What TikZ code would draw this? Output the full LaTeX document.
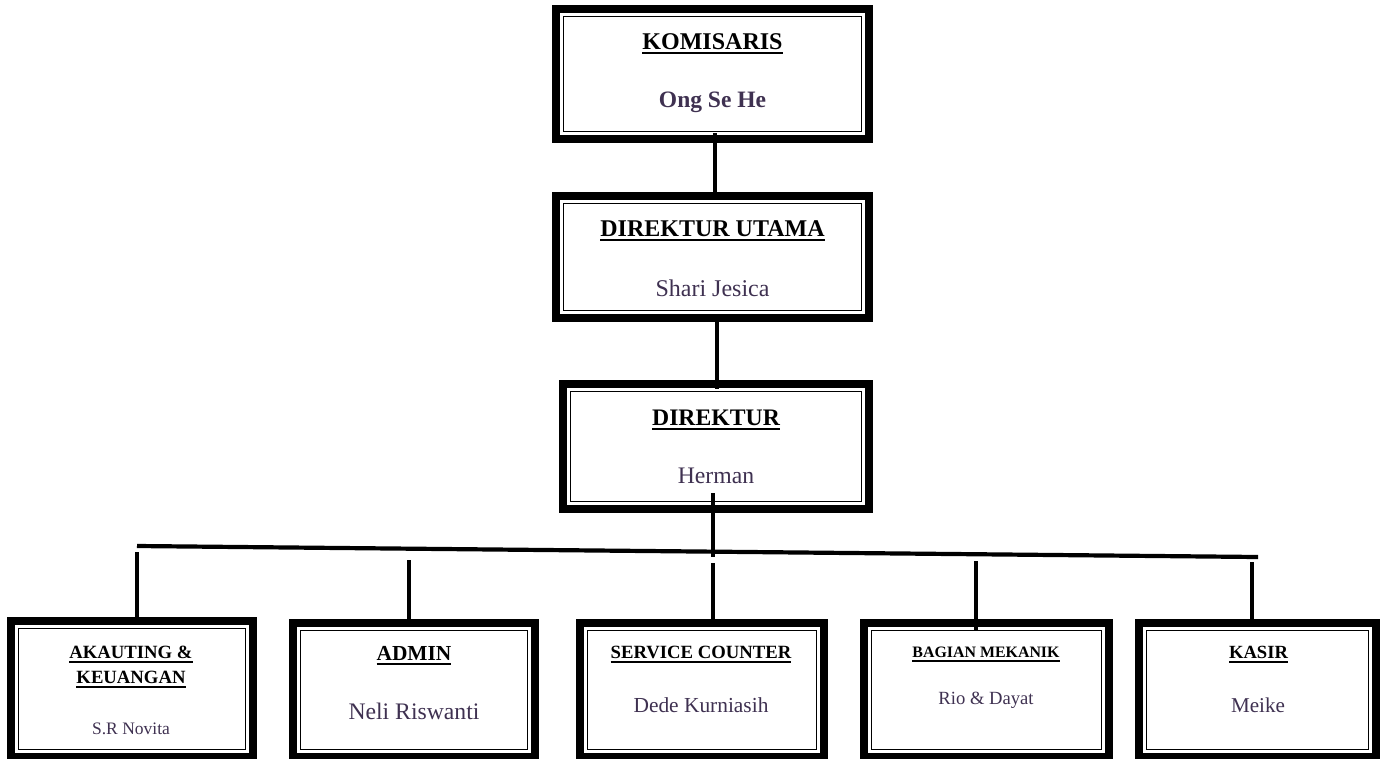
\documentclass[tikz,border=0pt]{standalone}
\usepackage{fontspec}
\setmainfont{Liberation Serif}
\usetikzlibrary{calc}
\newsavebox{\ulxbox}
\newcommand{\ulx}[1]{\sbox{\ulxbox}{#1}\rlap{\rule[-4.8pt]{\wd\ulxbox}{2.2pt}}\usebox{\ulxbox}}
\definecolor{namecol}{HTML}{3F3151}
\newcommand{\orgbox}[5]{%
  \node[obox, minimum width={#4-#2-8}, minimum height={#5-#3-8}] (#1) at ({(#2+#4)/2},{(#3+#5)/2}) {};
  \draw[thinrule] ($(#1.north west)+(7.6,7.6)$) rectangle ($(#1.south east)+(-7.6,-7.6)$);
}
\newcommand{\fs}[1]{\fontsize{#1}{#1}\selectfont}
\begin{document}
\begin{tikzpicture}[x=1pt,y=-1pt,
  obox/.style={draw, line width=8pt, rectangle, inner sep=0pt, outer sep=0pt, fill=white},
  thinrule/.style={draw, line width=1.7pt},
  conn/.style={draw, line width=4.2pt},
  ttl/.style={inner sep=0pt, anchor=base, font=\bfseries},
  nm/.style={inner sep=0pt, anchor=base, text=namecol}]
\useasboundingbox[fill=white] (0,0) rectangle (1380,758);

% connector end points
\coordinate (c1) at (715,133);
\coordinate (c2) at (717,389);
\coordinate (c3) at (713,493);
\coordinate (c3e) at (713,557);
\coordinate (hl) at (137,546);
\coordinate (hr) at (1258,557);
\coordinate (d1) at (137,552);
\coordinate (d2) at (409,560);
\coordinate (d3) at (713,563);
\coordinate (d4) at (976,561);
\coordinate (d4e) at (976,630);
\coordinate (d5) at (1252,562);

% boxes
\orgbox{kom}{552}{5}{873}{143}
\orgbox{du}{552}{192}{873}{322}
\orgbox{dir}{559}{380}{873}{513}
\orgbox{akt}{7}{617}{257}{761}
\orgbox{adm}{289}{619}{539}{761}
\orgbox{svc}{576}{619}{828}{761}
\orgbox{mek}{860}{619}{1113}{761}
\orgbox{ksr}{1135}{619}{1380}{761}

\draw[conn] (c1) -- (c1 |- du.north);
\draw[conn] (c2 |- du.south) -- (c2);
\draw[conn] (c3) -- (c3e);
\draw[conn] (hl) -- (hr);
\draw[conn] (d1) -- (d1 |- akt.north);
\draw[conn] (d2) -- (d2 |- adm.north);
\draw[conn] (d3) -- (d3 |- svc.north);
\draw[conn] (d4) -- (d4e);
\draw[conn] (d5) -- (d5 |- ksr.north);

% texts
\node[ttl, font=\bfseries\fs{24}] (kom-t) at (712.5,49) {\ulx{KOMISARIS}};
\node[nm, font=\bfseries\fs{23.5}] (kom-n) at (712.5,107) {Ong Se He};
\node[ttl, font=\bfseries\fs{24}] (du-t) at (712.5,236) {\ulx{DIREKTUR UTAMA}};
\node[nm, font=\fs{24}] (du-n) at (712.5,296) {Shari Jesica};
\node[ttl, font=\bfseries\fs{23.7}] (dir-t) at (716,425) {\ulx{DIREKTUR}};
\node[nm, font=\fs{23.7}] (dir-n) at (716,483) {Herman};

\node[ttl, font=\bfseries\fs{18.7}] (akt-t1) at (131,658) {\ulx{AKAUTING \&}};
\node[ttl, font=\bfseries\fs{18.7}] (akt-t2) at (131,683) {\ulx{KEUANGAN}};
\node[nm, font=\fs{17.5}] (akt-n) at (131,734) {S.R Novita};
\node[ttl, font=\bfseries\fs{21.4}] (adm-t) at (414,660) {\ulx{ADMIN}};
\node[nm, font=\fs{23.7}] (adm-n) at (414,719) {Neli Riswanti};
\node[ttl, font=\bfseries\fs{18.7}] (svc-t) at (701,658) {\ulx{SERVICE COUNTER}};
\node[nm, font=\fs{21.4}] (svc-n) at (701,712) {Dede Kurniasih};
\node[ttl, font=\bfseries\fs{15.9}] (mek-t) at (986,657) {\ulx{BAGIAN MEKANIK}};
\node[nm, font=\fs{18.6}] (mek-n) at (986,704) {Rio \& Dayat};
\node[ttl, font=\bfseries\fs{18.6}] (ksr-t) at (1258.5,658) {\ulx{KASIR}};
\node[nm, font=\fs{21.1}] (ksr-n) at (1258,712) {Meike};
\end{tikzpicture}
\end{document}
